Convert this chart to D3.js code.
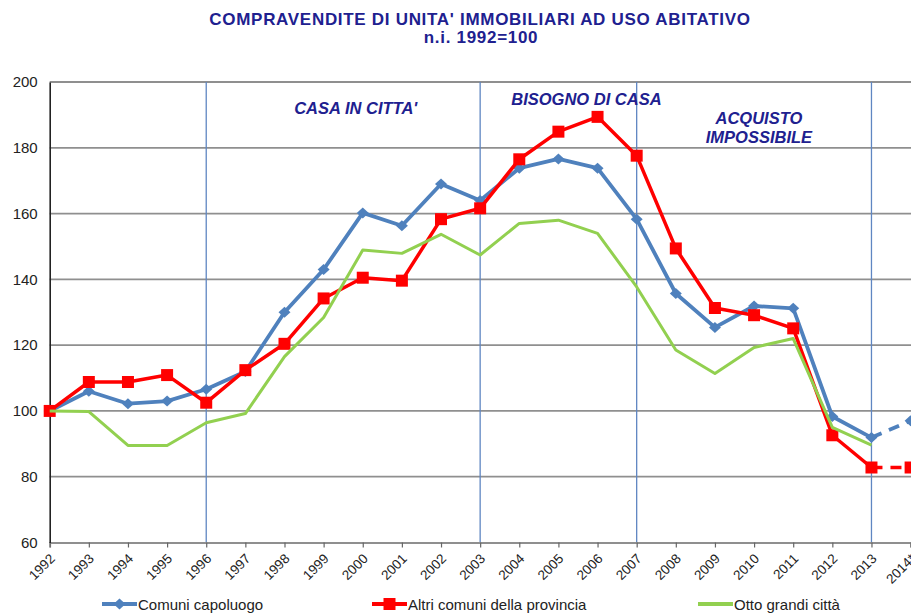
<!DOCTYPE html>
<html lang="it">
<head>
  <meta charset="UTF-8">
  <title>Compravendite di unita' immobiliari ad uso abitativo</title>
  <script src="https://d3js.org/d3.v7.min.js"></script>
  <style>
    html, body {
      margin: 0;
      padding: 0;
      background-color: #ffffff;
      font-family: Arial, 'Liberation Sans', Helvetica, sans-serif;
    }
    svg { display: block; }
    .title { font-weight: bold; fill: #20208f; font-size: 17px; letter-spacing: 0.7px; }
    .period { font-weight: bold; font-style: italic; fill: #20208f; font-size: 16.5px; }
    .ylab { font-size: 15px; fill: #222; }
    .xlab { font-size: 13.5px; fill: #222; }
    .legend text { font-size: 15px; fill: #222; }
  </style>
</head>
<body>
<svg width="911" height="614"></svg>
<script>
  // anni e serie (n.i. 1992 = 100)
  const years = ["1992", "1993", "1994", "1995", "1996", "1997", "1998", "1999", "2000", "2001", "2002",
    "2003", "2004", "2005", "2006", "2007", "2008", "2009", "2010", "2011", "2012", "2013", "2014*"];

  const capoluogo = [100, 106, 102.2, 103, 106.6, 112, 130, 143, 160.2, 156.3, 169,
    164, 173.8, 176.6, 173.8, 158.3, 135.7, 125.4, 131.9, 131.2, 98.3, 91.9, 97];
  const altriComuni = [100, 108.8, 108.8, 110.9, 102.5, 112.4, 120.4, 134.2, 140.5, 139.6, 158.3,
    161.6, 176.5, 184.9, 189.4, 177.6, 149.4, 131.3, 129.1, 125.1, 92.6, 82.8, 82.8];
  const ottoCitta = [100, 99.8, 89.5, 89.5, 96.4, 99.2, 116.5, 128.4, 148.9, 147.9, 153.7,
    147.4, 157, 158, 154, 137.7, 118.5, 111.4, 119.3, 122, 95, 89.6, null];

  const yTicks = [60, 80, 100, 120, 140, 160, 180, 200];
  const periodYears = ["1996", "2003", "2007", "2013"];
  const periodLabels = [["CASA IN CITTA'"], ["BISOGNO DI CASA"], ["ACQUISTO", "IMPOSSIBILE"]];
  const lastSolid = "2013"; // 2014* e' una stima: tratto in linea tratteggiata

  const series = [
    { name: "Comuni capoluogo", values: capoluogo, color: "#4f81bd", marker: "diamond", width: 3.8 },
    { name: "Altri comuni della provincia", values: altriComuni, color: "#ff0000", marker: "square", width: 3.5 },
    { name: "Otto grandi città", values: ottoCitta, color: "#92d050", marker: null, width: 3 }
  ];

  const svg = d3.select("svg");

  const x = d3.scalePoint().domain(years).range([49.7, 910.6]);
  const y = d3.scaleLinear().domain([60, 200]).range([542.5, 82]);

  // titolo
  svg.append("text").attr("class", "title").attr("x", 480).attr("y", 25)
    .attr("text-anchor", "middle")
    .text("COMPRAVENDITE DI UNITA' IMMOBILIARI AD USO ABITATIVO");
  svg.append("text").attr("class", "title").attr("x", 481).attr("y", 43)
    .attr("text-anchor", "middle")
    .text("n.i. 1992=100");

  // griglia orizzontale
  svg.append("g").selectAll("line").data(yTicks.filter(d => d > 60)).join("line")
    .attr("x1", x.range()[0]).attr("x2", 911)
    .attr("y1", d => y(d)).attr("y2", d => y(d))
    .attr("stroke", "#8f8f8f").attr("stroke-width", 1.8);

  // linee verticali dei periodi
  svg.append("g").selectAll("line").data(periodYears).join("line")
    .attr("x1", d => x(d)).attr("x2", d => x(d))
    .attr("y1", y(200)).attr("y2", y(60))
    .attr("stroke", "#5f86c2").attr("stroke-width", 1.3);

  // asse x
  const xAxis = svg.append("g").attr("transform", `translate(0,${y(60)})`)
    .call(d3.axisBottom(x).tickSize(5).tickFormat(""));
  xAxis.select(".domain").attr("stroke", "#8f8f8f").attr("stroke-width", 1.8);
  xAxis.selectAll(".tick line").attr("stroke", "#666").attr("stroke-width", 1.2);

  svg.append("g").selectAll("text").data(years).join("text")
    .attr("class", "xlab")
    .attr("text-anchor", "end")
    .attr("transform", d => `translate(${x(d) + 6},${y(60) + 17}) rotate(-45)`)
    .text(d => d);

  // asse y
  const yAxis = svg.append("g").attr("transform", `translate(${x.range()[0]},0)`)
    .call(d3.axisLeft(y).tickValues(yTicks).tickSize(0).tickPadding(12));
  yAxis.select(".domain").attr("stroke", "#222").attr("stroke-width", 1.6);
  yAxis.selectAll(".tick text").attr("class", "ylab").attr("fill", null);
  yAxis.attr("font-size", null).attr("font-family", null);

  // etichette dei periodi, centrate nei rispettivi intervalli
  const labelPos = [
    { cx: x("2000") - 7, top: 114 },
    { cx: x("2005") + 28, top: 105 },
    { cx: x("2009") + 44, top: 124 }
  ];
  periodLabels.forEach((lines, k) => {
    const p = labelPos[k];
    const t = svg.append("text").attr("class", "period").attr("text-anchor", "middle")
      .attr("x", p.cx).attr("y", p.top);
    lines.forEach((s, i) => t.append("tspan").attr("x", p.cx).attr("dy", i ? 19 : 0).text(s));
  });

  const diamond = "M0,-5.5L6,0L0,5.5L-6,0Z";
  const square = "M-6,-6H6V6H-6Z";

  // serie
  const iSplit = years.indexOf(lastSolid);
  series.forEach(s => {
    const pts = years.map((yr, i) => ({ yr, v: s.values[i], i })).filter(d => d.v != null);
    const line = d3.line().x(d => x(d.yr)).y(d => y(d.v));
    const g = svg.append("g");
    g.append("path").datum(pts.filter(d => d.i <= iSplit))
      .attr("d", line).attr("fill", "none").attr("stroke", s.color)
      .attr("stroke-width", s.width).attr("stroke-linejoin", "round");
    const tail = pts.filter(d => d.i >= iSplit);
    if (tail.length > 1) {
      g.append("path").datum(tail)
        .attr("d", line).attr("fill", "none").attr("stroke", s.color)
        .attr("stroke-width", s.width).attr("stroke-dasharray", "11,8");
    }
    if (s.marker) {
      g.selectAll("path.m").data(pts).join("path").attr("class", "m")
        .attr("transform", d => `translate(${x(d.yr)},${y(d.v)})`)
        .attr("d", s.marker === "diamond" ? diamond : square)
        .attr("fill", s.color);
    }
  });

  // legenda
  const legendX = [102, 372, 698];
  const legend = svg.append("g").attr("class", "legend");
  series.forEach((s, i) => {
    const lg = legend.append("g").attr("transform", `translate(${legendX[i]},604)`);
    lg.append("line").attr("x1", 0).attr("x2", 35).attr("stroke", s.color).attr("stroke-width", 4);
    if (s.marker) {
      lg.append("path").attr("transform", "translate(17.5,0)")
        .attr("d", s.marker === "diamond" ? diamond : square).attr("fill", s.color);
    }
    lg.append("text").attr("x", 36).attr("y", 5.5).text(s.name);
  });
</script>
</body>
</html>
